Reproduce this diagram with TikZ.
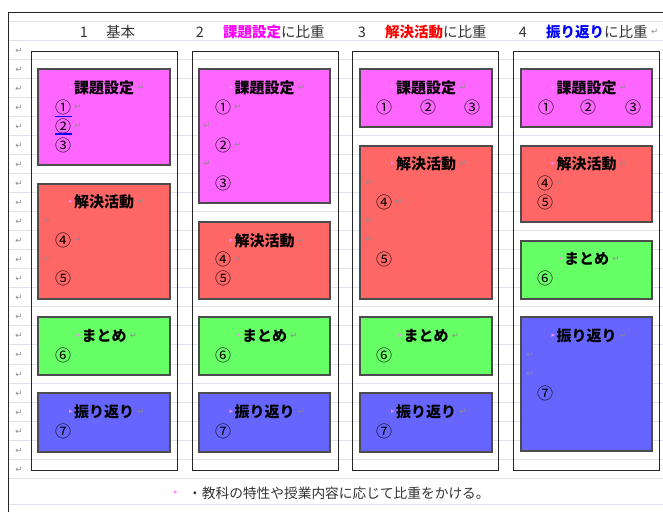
\documentclass[tikz,border=0pt]{standalone}
\usepackage{fontspec}
\newfontfamily\jp{Noto Sans CJK JP}
\newfontfamily\djv{DejaVu Sans}
\definecolor{kmag}{HTML}{FF66FF}
\definecolor{kred}{HTML}{FF6666}
\definecolor{kgrn}{HTML}{66FF66}
\definecolor{kblu}{HTML}{6666FF}
\definecolor{hmag}{HTML}{FF00FF}
\definecolor{hred}{HTML}{FF0000}
\definecolor{hblu}{HTML}{0000FF}
\definecolor{gridc}{HTML}{E1E3EC}
\definecolor{hdrc}{HTML}{333333}
\definecolor{retc}{HTML}{8C8C8C}
\definecolor{tric}{HTML}{FF88FF}
\tikzset{
  colbox/.style={draw=black!85, line width=0.9pt},
  kbox/.style={draw=black!70, line width=1.3pt},
  ttl/.style={font=\jp\bfseries\fontsize{15}{15}\selectfont, inner sep=0pt},
  num/.style={font=\jp\fontsize{16}{16}\selectfont, inner sep=0pt},
  hdr/.style={font=\jp\fontsize{14.5}{14.5}\selectfont, text=hdrc, inner sep=0pt},
  ret/.style={font=\djv\fontsize{8.5}{8.5}\selectfont, text=retc, inner sep=0pt},
  tri/.style={font=\djv\fontsize{7}{7}\selectfont, text=tric, inner sep=0pt},
  uline/.style={draw=hblu, line width=1.4pt},
}
\newcommand\ttlat[3]{%
  \node[ttl] (#1) at (#2) {#3};
  \node[tri,anchor=east] (#1-m) at ([xshift=-1pt]#1.west) {▸};
  \node[ret,anchor=west] (#1-r) at ([xshift=3pt]#1.east) {↵};}
\newcommand\numat[3]{\node[num] (#1) at (#2) {#3};}
\newcommand\numret[3]{\node[num] (#1) at (#2) {#3};
  \node[ret,anchor=west] (#1-r) at ([xshift=3pt]#1.east) {↵};}
\newcommand\retat[2]{\node[ret] (#1) at (#2) {↵};}
\begin{document}
\begin{tikzpicture}[x=1pt,y=-1pt]
\useasboundingbox (0,0) rectangle (663,512);
\fill[white] (0,0) rectangle (663,512);
% grid lines
\foreach \k in {0,...,24} {
  \draw[gridc, line width=0.8pt] (8,21+19.05*\k) -- (663,21+19.05*\k);
}
\draw[gridc, line width=0.8pt] (8,504) -- (663,504);
% page border
\draw[black!85, line width=1pt] (8,512) -- (8,12) -- (663,12);
% left return marks
\foreach \k in {0,...,22} {
  \node[ret] (lr\k) at (19,50.5+19.05*\k) {↵};
}
% header
\node[hdr] (h1n) at (84,32) {1};
\node[hdr,anchor=west] (h1t) at (106,32) {基本};
\node[hdr] (h2n) at (200,32) {2};
\node[hdr,anchor=west] (h2t) at (223,32) {\textcolor{hmag}{\bfseries 課題設定}に比重};
\node[hdr] (h3n) at (362,32) {3};
\node[hdr,anchor=west] (h3t) at (385,32) {\textcolor{hred}{\bfseries 解決活動}に比重};
\node[hdr] (h4n) at (523,32) {4};
\node[hdr,anchor=west] (h4t) at (546,32) {\textcolor{hblu}{\bfseries 振り返り}に比重};
\node[ret,anchor=west] (h4r) at ([xshift=3pt]h4t.east) {↵};
% column frames
\draw[colbox] (31,51) rectangle (177,470);
\draw[colbox] (192,51) rectangle (338,470);
\draw[colbox] (352,51) rectangle (498,470);
\draw[colbox] (513,51) rectangle (659,470);
% column 1
\draw[kbox, fill=kmag] (38,69) rectangle (170,165);
\draw[kbox, fill=kred] (38,184) rectangle (170,299);
\draw[kbox, fill=kgrn] (38,317) rectangle (170,375);
\draw[kbox, fill=kblu] (38,393) rectangle (170,452);
\ttlat{a1}{104,88}{課題設定}
\numret{a1n1}{63,107}{①}
\numret{a1n2}{63,126}{②}
\numat{a1n3}{63,145}{③}
\draw[uline] (55,116.5) -- (72,116.5);
\draw[uline] (55,134) -- (72,134);
\ttlat{b1}{104,202}{解決活動}
\retat{b1r1}{48,221}
\numret{b1n4}{63,240}{④}
\retat{b1r2}{48,259}
\numat{b1n5}{63,278}{⑤}
\ttlat{c1}{104,336}{まとめ}
\numat{c1n6}{63,355}{⑥}
\ttlat{d1}{104,412}{振り返り}
\numat{d1n7}{63,431}{⑦}
% column 2
\draw[kbox, fill=kmag] (199,69) rectangle (330,203);
\draw[kbox, fill=kred] (199,222) rectangle (330,299);
\draw[kbox, fill=kgrn] (199,317) rectangle (330,375);
\draw[kbox, fill=kblu] (199,393) rectangle (330,452);
\ttlat{a2}{264.5,88}{課題設定}
\numret{a2n1}{223,107}{①}
\retat{a2r1}{207,126}
\numret{a2n2}{223,145}{②}
\retat{a2r2}{207,164}
\numat{a2n3}{223,183}{③}
\ttlat{b2}{264.5,241}{解決活動}
\numret{b2n4}{223,259}{④}
\numat{b2n5}{223,278}{⑤}
\ttlat{c2}{264.5,336}{まとめ}
\numat{c2n6}{223,355}{⑥}
\ttlat{d2}{264.5,412}{振り返り}
\numat{d2n7}{223,431}{⑦}
% column 3
\draw[kbox, fill=kmag] (360,69) rectangle (492,127);
\draw[kbox, fill=kred] (360,146) rectangle (492,299);
\draw[kbox, fill=kgrn] (360,317) rectangle (492,375);
\draw[kbox, fill=kblu] (360,393) rectangle (492,452);
\ttlat{a3}{426,88}{課題設定}
\numat{a3n1}{384,107}{①}
\numat{a3n2}{428,107}{②}
\numat{a3n3}{472,107}{③}
\ttlat{b3}{426,164}{解決活動}
\retat{b3r1}{369,183}
\numret{b3n4}{384,202}{④}
\retat{b3r2}{369,221}
\retat{b3r3}{369,240}
\numat{b3n5}{384,259}{⑤}
\ttlat{c3}{426,336}{まとめ}
\numat{c3n6}{384,355}{⑥}
\ttlat{d3}{426,412}{振り返り}
\numat{d3n7}{384,431}{⑦}
% column 4
\draw[kbox, fill=kmag] (521,69) rectangle (652,127);
\draw[kbox, fill=kred] (521,146) rectangle (652,222);
\draw[kbox, fill=kgrn] (521,241) rectangle (652,299);
\draw[kbox, fill=kblu] (521,317) rectangle (652,451);
\ttlat{a4}{586.5,88}{課題設定}
\numat{a4n1}{546,107}{①}
\numat{a4n2}{588,107}{②}
\numat{a4n3}{633,107}{③}
\ttlat{b4}{586.5,164}{解決活動}
\numret{b4n4}{545,183}{④}
\numat{b4n5}{545,202}{⑤}
\ttlat{c4}{586.5,259}{まとめ}
\numat{c4n6}{545,278}{⑥}
\ttlat{d4}{586.5,336}{振り返り}
\retat{d4r1}{530,355}
\retat{d4r2}{530,374}
\numat{d4n7}{545,393}{⑦}
% footer
\node[hdr, font=\jp\fontsize{13.7}{13.7}\selectfont, anchor=west] (foot) at (188,493) {・教科の特性や授業内容に応じて比重をかける。};
\node[tri] (footm) at (176,493) {▸};
\end{tikzpicture}
\end{document}
